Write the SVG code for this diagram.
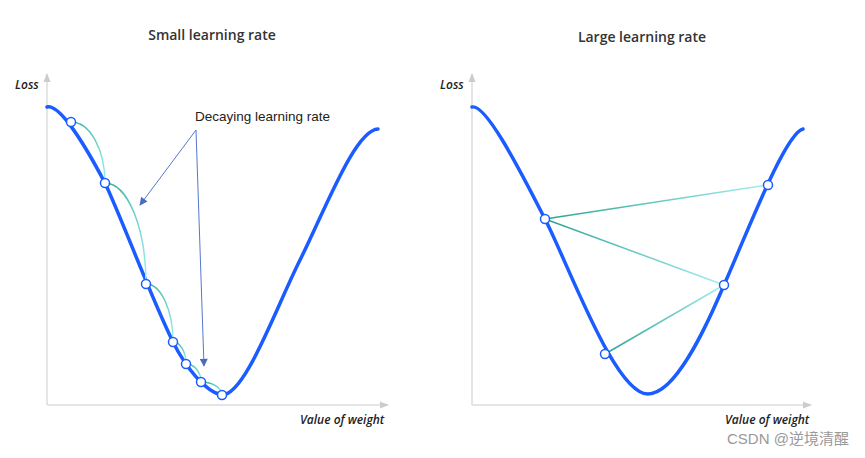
<svg xmlns="http://www.w3.org/2000/svg" width="865" height="458" viewBox="0 0 865 458">
<style>
.title{font-family:"Open Sans","Liberation Sans",sans-serif;font-size:14px;font-weight:600;fill:#333;text-anchor:middle}
.axl{font-family:"Open Sans","Liberation Sans",sans-serif;font-size:12px;font-style:italic;font-weight:600;fill:#222}
.axis{stroke:#ddd;stroke-width:1.5;fill:none}
.curve{stroke:#1a5cff;stroke-width:3.5;fill:none;stroke-linecap:round}
.pt{fill:#fff;stroke:#1a5cff;stroke-width:1.5}
.arc{fill:none;stroke-width:1.5}
.ann{stroke:#5577cc;stroke-width:1;fill:none}
.note{font-family:"Liberation Sans",Arial,sans-serif;font-size:13.5px;fill:#222}
.wm{font-family:"Liberation Sans","Noto Sans CJK SC",sans-serif;font-size:15px;fill:#999}
</style>
<defs>
<marker id="axh" viewBox="0 0 10 10" refX="9" refY="5" markerWidth="6" markerHeight="6" orient="auto"><path d="M0,1 L10,5 L0,9 Z" fill="#ccc"/></marker>
<marker id="ah" viewBox="0 0 10 10" refX="9" refY="5" markerWidth="10" markerHeight="8" orient="auto" markerUnits="userSpaceOnUse"><path d="M0,0 L10,5 L0,10 Z" fill="#4a6cc0"/></marker>
<linearGradient id="ga" x1="0" y1="0" x2="1" y2="1"><stop offset="0" stop-color="#2fae9e"/><stop offset="1" stop-color="#9ef0ee"/></linearGradient>
<linearGradient id="g1" gradientUnits="userSpaceOnUse" x1="545" y1="219" x2="768" y2="185"><stop offset="0" stop-color="#2aa394"/><stop offset="1" stop-color="#a6eef0"/></linearGradient>
<linearGradient id="g2" gradientUnits="userSpaceOnUse" x1="545" y1="219" x2="724" y2="285"><stop offset="0" stop-color="#2aa394"/><stop offset="1" stop-color="#a6eef0"/></linearGradient>
<linearGradient id="g3" gradientUnits="userSpaceOnUse" x1="605" y1="354" x2="724" y2="285"><stop offset="0" stop-color="#2aa394"/><stop offset="1" stop-color="#a6eef0"/></linearGradient>
</defs>
<rect width="865" height="458" fill="#fff"/>

<g id="left-plot">
<text class="title" x="212" y="40">Small learning rate</text>
<path class="axis" d="M47,405 L47,74" marker-end="url(#axh)"/>
<path class="axis" d="M47,405 L388,405" marker-end="url(#axh)"/>
<text class="axl" x="15" y="89">Loss</text>
<text class="axl" x="300" y="424">Value of weight</text>
<path class="curve" d="M47,107 C60,104 85,145 105,183 C122,219 150,295 173,342 C185,366 205,392 222,395 C245,395 275,310 300,260 C325,210 355,130 378,129"/>
</g>

<g id="connectors">
<path class="arc" stroke="url(#ga)" d="M71,122 A34,61 0 0 1 105,183"/>
<path class="arc" stroke="url(#ga)" d="M105,183 A41,101 0 0 1 146,284"/>
<path class="arc" stroke="url(#ga)" d="M146,284 A27,58 0 0 1 173,342"/>
<path class="arc" stroke="url(#ga)" d="M173,342 A13,22 0 0 1 186,364"/>
<path class="arc" stroke="url(#ga)" d="M186,364 A15,18 0 0 1 201,382"/>
<path class="arc" stroke="url(#ga)" d="M201,382 A21,13 0 0 1 222,395"/>
<path class="ann" d="M196,130 L140,205" marker-end="url(#ah)"/>
<path class="ann" d="M196,130 L204,366" marker-end="url(#ah)"/>
<line x1="545" y1="219" x2="768" y2="185" stroke="url(#g1)" stroke-width="1.5"/>
<line x1="545" y1="219" x2="724" y2="285" stroke="url(#g2)" stroke-width="1.5"/>
<line x1="605" y1="354" x2="724" y2="285" stroke="url(#g3)" stroke-width="1.5"/>
</g>

<g id="left-points">
<circle class="pt" cx="71" cy="122" r="4.5"/>
<circle class="pt" cx="105" cy="183" r="4.5"/>
<circle class="pt" cx="146" cy="284" r="4.5"/>
<circle class="pt" cx="173" cy="342" r="4.5"/>
<circle class="pt" cx="186" cy="364" r="4.5"/>
<circle class="pt" cx="201" cy="382" r="4.5"/>
<circle class="pt" cx="222" cy="395" r="4.5"/>
</g>
<g id="annotation">
<text class="note" x="195" y="121">Decaying learning rate</text>
</g>

<g id="right-plot">
<text class="title" x="642" y="42">Large learning rate</text>
<path class="axis" d="M472,405 L472,74" marker-end="url(#axh)"/>
<path class="axis" d="M472,405 L811,405" marker-end="url(#axh)"/>
<text class="axl" x="440" y="89">Loss</text>
<text class="axl" x="725" y="424">Value of weight</text>
<path class="curve" d="M472,107 C485,104 515,160 545,219 C570,268 615,394 648,394 C675,394 705,330 724,285 C745,238 785,133 803,129"/>
</g>
<g id="right-points">
<circle class="pt" cx="545" cy="219" r="4.5"/>
<circle class="pt" cx="768" cy="185" r="4.5"/>
<circle class="pt" cx="724" cy="285" r="4.5"/>
<circle class="pt" cx="605" cy="354" r="4.5"/>
</g>
<text class="wm" x="727" y="444">CSDN @逆境清醒</text>
</svg>
